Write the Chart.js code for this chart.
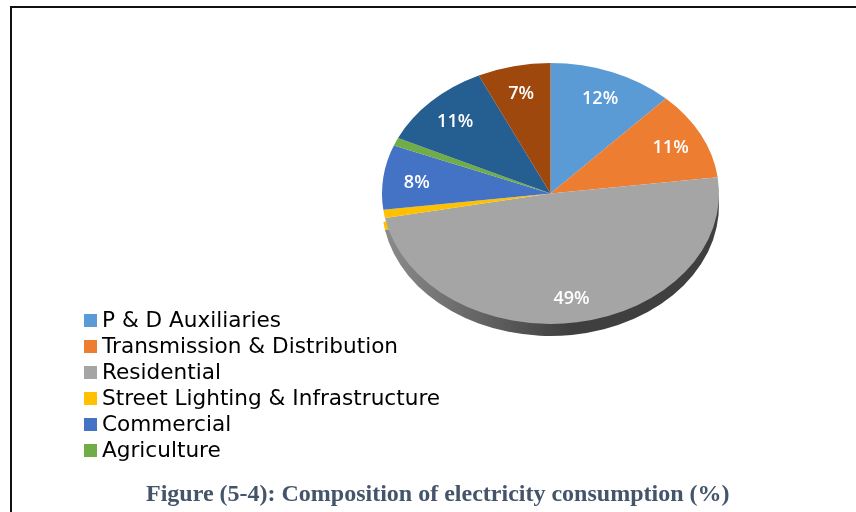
<!DOCTYPE html>
<html>
<head>
<meta charset="utf-8">
<script src="https://cdn.jsdelivr.net/npm/chart.js@4"></script>
<style>
    html, body { margin: 0; padding: 0; background: #fff; }
    #page { position: relative; width: 856px; height: 512px; overflow: hidden; }
    #frame { position: absolute; left: 10px; top: 6px; width: 860px; height: 520px; border-left: 2px solid #111; border-top: 2px solid #111; }
    canvas { position: absolute; left: 0; top: 0; }
    #legend { position: absolute; left: 84px; top: 307px; margin: 0; padding: 0; list-style: none; font: 21.6px "DejaVu Sans", sans-serif; color: #000; }
    #legend li { height: 26px; line-height: 26px; white-space: nowrap; }
    #legend span { display: inline-block; width: 13px; height: 13px; margin-right: 5px; }
    #title { position: absolute; left: 146px; top: 480px; font: bold 24px "Liberation Serif", serif; color: #44546A; white-space: nowrap; }
</style>
</head>
<body>
<div id="page">
    <div id="frame"></div>
    <canvas id="chart" width="856" height="512"></canvas>
    <ul id="legend"></ul>
    <div id="title">Figure (5-4): Composition of electricity consumption (%)</div>
</div>
<script>
// The last two slices have no legend entry in the source figure
const categories = ['P & D Auxiliaries', 'Transmission & Distribution', 'Residential', 'Street Lighting & Infrastructure', 'Commercial', 'Agriculture', '', ''];
const shares = [12, 11, 49, 1, 8, 1, 11, 7];
const sliceColors = ['#5B9BD5', '#ED7D31', '#A5A5A5', '#FFC000', '#4472C4', '#70AD47', '#255E91', '#9E480E'];

const SQUASH = 0.774;   // pie is tilted, y is flattened around the center
const DEPTH = 12;       // height of the rim under the pie

const flatten = (ctx, arc) => {
    ctx.translate(arc.x, arc.y);
    ctx.scale(1, SQUASH);
    ctx.translate(-arc.x, -arc.y);
};

const tiltedPie = {
    id: 'tiltedPie',
    beforeDatasetsDraw(chart) {
        const { ctx } = chart;
        const arcs = chart.getDatasetMeta(0).data;
        const first = arcs[0];

        // Rim: only the front slices show one, dark gradient on the large slice
        const rim = ctx.createLinearGradient(first.x - first.outerRadius, 0, first.x + 20, 0);
        rim.addColorStop(0, '#8c8c8c');
        rim.addColorStop(1, '#3f3f3f');
        ctx.save();
        ctx.translate(0, DEPTH);
        flatten(ctx, first);
        [3, 2].forEach(i => {
            const arc = arcs[i];
            ctx.beginPath();
            ctx.moveTo(arc.x, arc.y);
            ctx.arc(arc.x, arc.y, arc.outerRadius, arc.startAngle, arc.endAngle);
            ctx.closePath();
            ctx.fillStyle = i === 2 ? rim : sliceColors[i];
            ctx.fill();
        });
        ctx.restore();

        ctx.save();
        flatten(ctx, first);
    },
    afterDatasetsDraw(chart) {
        const { ctx } = chart;
        ctx.restore();

        // Percent labels, the 1% slices stay unlabelled
        ctx.save();
        ctx.font = '600 18px "Open Sans", sans-serif';
        ctx.fillStyle = '#fff';
        ctx.textAlign = 'center';
        ctx.textBaseline = 'middle';
        chart.getDatasetMeta(0).data.forEach((arc, i) => {
            if (shares[i] < 5) return;
            const mid = (arc.startAngle + arc.endAngle) / 2;
            const r = arc.outerRadius * 0.8;
            ctx.fillText(shares[i] + '%', arc.x + Math.cos(mid) * r, arc.y + Math.sin(mid) * r * SQUASH + 2);
        });
        ctx.restore();
    }
};

new Chart(document.getElementById('chart'), {
    type: 'pie',
    data: {
        labels: categories,
        datasets: [{
            data: shares,
            backgroundColor: sliceColors,
            borderWidth: 0
        }]
    },
    options: {
        responsive: false,
        animation: false,
        layout: {
            padding: { left: 382, right: 137, top: 25, bottom: 150 }
        },
        plugins: {
            legend: { display: false },
            title: { display: false },
            tooltip: { enabled: false }
        }
    },
    plugins: [tiltedPie]
});

// Legend list, skips the slices without a name
const legend = document.getElementById('legend');
categories.forEach((name, i) => {
    if (!name) return;
    const item = document.createElement('li');
    const box = document.createElement('span');
    box.style.background = sliceColors[i];
    item.appendChild(box);
    item.appendChild(document.createTextNode(name));
    legend.appendChild(item);
});
</script>
</body>
</html>
